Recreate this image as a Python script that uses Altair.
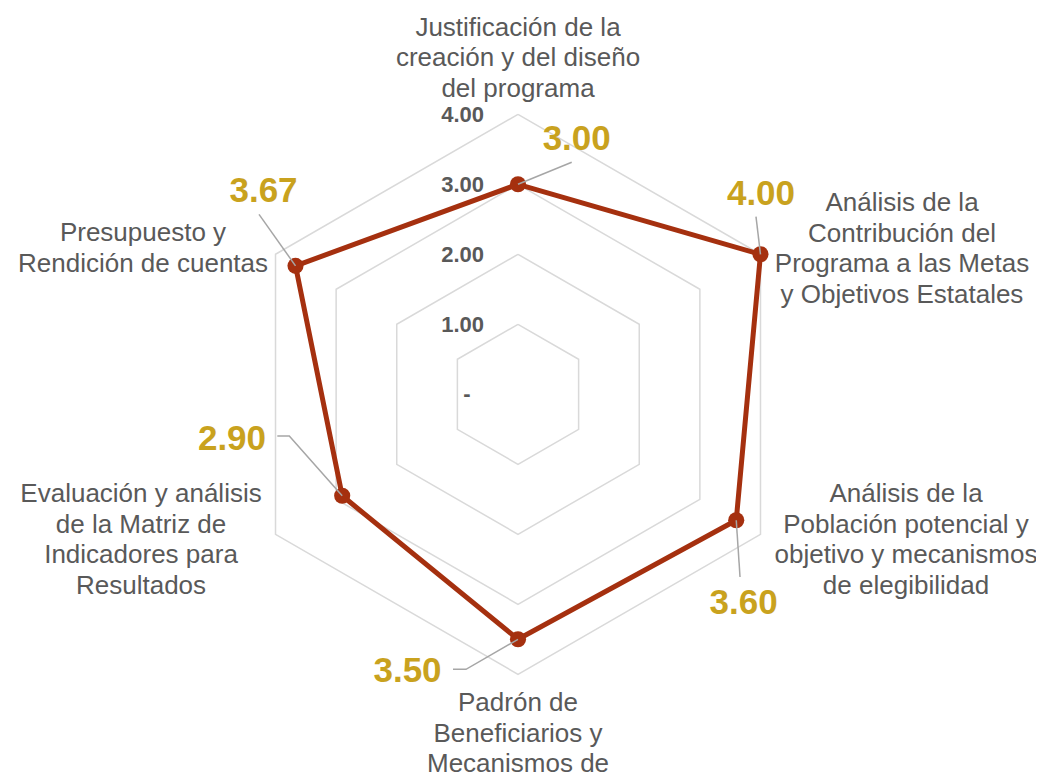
import altair as alt
import pandas as pd

# ---------------- data ----------------
categories = [
    "Justificación de la\ncreación y del diseño\ndel programa",
    "Análisis de la\nContribución del\nPrograma a las Metas\ny Objetivos Estatales",
    "Análisis de la\nPoblación potencial y\nobjetivo y mecanismos\nde elegibilidad",
    "Padrón de\nBeneficiarios y\nMecanismos de\nAtención",
    "Evaluación y análisis\nde la Matriz de\nIndicadores para\nResultados",
    "Presupuesto y\nRendición de cuentas",
]
values = [3.00, 4.00, 3.60, 3.50, 2.90, 3.67]
value_labels = ["3.00", "4.00", "3.60", "3.50", "2.90", "3.67"]
levels = [1, 2, 3, 4]
tick_values = [0, 1, 2, 3, 4]
tick_labels = ["-", "1.00", "2.00", "3.00", "4.00"]

# ---------------- layout (pixels) ----------------
W, H = 1028, 765
CX, CY = 510.0, 386.3          # centre of the radar in svg pixels
PX = 70.0                      # pixels per unit
MAXV = 4
LH = 30.5                      # category label line height
# value-label centre offsets from the data point (px, y down)
val_off = [(58.7, -46.3), (0.5, -61.8), (7.3, 81.4), (-110.5, 30.7), (-110.2, -57.8), (-32.0, -75.9)]
# leader start / elbow offsets from the data point (px, y down)
lead_start = [(53.7, -22.0), (-4.5, -37.6), (3.8, 56.7), (-65.0, 30.0), (-64.9, -59.8), (-36.5, -51.5)]
lead_elbow = [(53.7, -22.0), (-4.5, -37.6), (3.8, 56.7), (-52.0, 30.0), (-52.9, -59.8), (-36.5, -51.5)]
# category label block centres, offset from the outer vertex (px, y down)
cat_off = [(0, -56.0), (141.5, -5.3), (145.5, 5.7), (0, 74.5), (-134.5, 5.7), (-132.5, -5.8)]
# first-line position = block centre minus half the block height
cat_first = [(ox, oy - (c.count("\n")) * LH / 2) for (ox, oy), c in zip(cat_off, categories)]

RED = "#A5300F"
GOLD = "#C9A21E"
GREY_TXT = "#595959"
RING = "#D9D9D9"
LEADER = "#A6A6A6"

xs = alt.Scale(domain=[-CX / PX, (W - CX) / PX], range=[0, W], nice=False, zero=False)
ys = alt.Scale(domain=[(CY - H) / PX, CY / PX], range=[H, 0], nice=False, zero=False)
X = alt.X("x:Q", scale=xs, axis=None)
Y = alt.Y("y:Q", scale=ys, axis=None)

ANG = "datum.i * PI / 3"

# rings
ring_df = pd.DataFrame([{"level": lv, "i": k % 6, "k": k} for lv in levels for k in range(7)])
rings = alt.Chart(ring_df).transform_calculate(
    x=f"datum.level * sin({ANG})", y=f"datum.level * cos({ANG})"
).mark_line(color=RING, strokeWidth=1.5).encode(
    x=X, y=Y, detail="level:N", order="k:Q"
)

# data polygon
poly_df = pd.DataFrame({"i": list(range(7)),
                        "value": values + [values[0]]})
poly = alt.Chart(poly_df).transform_calculate(
    x=f"datum.value * sin({ANG})", y=f"datum.value * cos({ANG})"
).mark_line(color=RED, strokeWidth=5, strokeJoin="round").encode(
    x=X, y=Y, order="i:Q"
)

pt_df = pd.DataFrame({"i": list(range(6)), "value": values, "cat": categories})
points = alt.Chart(pt_df).transform_calculate(
    x=f"datum.value * sin({ANG})", y=f"datum.value * cos({ANG})"
).mark_circle(color=RED, size=260, opacity=1).encode(x=X, y=Y)

# leader lines
lead_rows = []
for i, v in enumerate(values):
    for s, (ox, oy) in enumerate([lead_start[i], lead_elbow[i], (0.0, 0.0)]):
        lead_rows.append({"i": i, "value": v, "s": s, "ox": ox, "oy": oy})
lead_df = pd.DataFrame(lead_rows)
leaders = alt.Chart(lead_df).transform_calculate(
    x=f"datum.value * sin({ANG}) + datum.ox / {PX}",
    y=f"datum.value * cos({ANG}) - datum.oy / {PX}",
).mark_line(color=LEADER, strokeWidth=1.5).encode(
    x=X, y=Y, detail="i:N", order="s:Q"
)

# value labels
vl_df = pd.DataFrame({"i": list(range(6)), "value": values, "label": value_labels,
                      "ox": [o[0] for o in val_off], "oy": [o[1] for o in val_off]})
vlabels = alt.Chart(vl_df).transform_calculate(
    x=f"datum.value * sin({ANG}) + datum.ox / {PX}",
    y=f"datum.value * cos({ANG}) - datum.oy / {PX}",
).mark_text(font="Liberation Sans", fontSize=35, fontWeight="bold", color=GOLD,
            align="center", baseline="middle", dy=1).encode(x=X, y=Y, text="label:N")

# tick labels
tk_df = pd.DataFrame({"v": tick_values[1:], "label": tick_labels[1:]})
ticks = alt.Chart(tk_df).transform_calculate(
    x=f"{-34.0 / PX}", y="datum.v"
).mark_text(font="Liberation Sans", fontSize=22, fontWeight="bold", color=GREY_TXT,
            align="right", baseline="middle", dy=1).encode(x=X, y=Y, text="label:N")
tk0_df = pd.DataFrame({"v": tick_values[:1], "label": tick_labels[:1]})
tick0 = alt.Chart(tk0_df).transform_calculate(
    x=f"{-51.0 / PX}", y="datum.v"
).mark_text(font="Liberation Sans", fontSize=22, fontWeight="bold", color=GREY_TXT,
            align="center", baseline="middle").encode(x=X, y=Y, text="label:N")

# category labels
cl_df = pd.DataFrame({"i": list(range(6)), "cat": categories,
                      "ox": [o[0] for o in cat_first], "oy": [o[1] for o in cat_first]})
clabels = alt.Chart(cl_df).transform_calculate(
    x=f"{MAXV} * sin({ANG}) + datum.ox / {PX}",
    y=f"{MAXV} * cos({ANG}) - datum.oy / {PX}",
).mark_text(font="Liberation Sans", fontSize=26, color=GREY_TXT, align="center",
            baseline="middle", lineBreak="\n", lineHeight=LH).encode(x=X, y=Y, text="cat:N")

chart = alt.layer(rings, poly, points, leaders, vlabels, ticks, tick0, clabels).properties(
    width=W, height=H, autosize=alt.AutoSizeParams(type="none"), padding=0,
    background="white"
).configure_view(stroke=None)

chart.save("out.html", embed_options={"renderer": "svg", "actions": False})
